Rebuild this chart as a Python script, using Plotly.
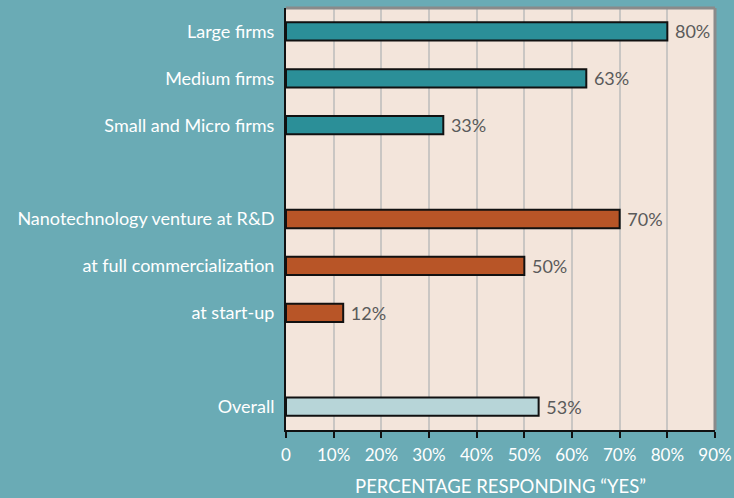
import plotly.graph_objects as go

categories = ["Large firms", "Medium firms", "Small and Micro firms",
              "Nanotechnology venture at R&D", "at full commercialization", "at start-up",
              "Overall"]
values = [80, 63, 33, 70, 50, 12, 53]
groups = ["size", "size", "size", "stage", "stage", "stage", "overall"]
tick_values = [0, 10, 20, 30, 40, 50, 60, 70, 80, 90]
tick_labels = ["0", "10%", "20%", "30%", "40%", "50%", "60%", "70%", "80%", "90%"]

colors = {"size": "#2b8f98", "stage": "#b85527", "overall": "#b7d5d8"}

# slot positions: blank slot between groups
pos = []
slot = 0
prev = None
for g in groups:
    if prev is not None and g != prev:
        slot += 1
    pos.append(slot)
    slot += 1
    prev = g

fig = go.Figure()
fig.add_trace(go.Bar(
    x=values, y=pos, orientation="h",
    marker=dict(color=[colors[g] for g in groups], line=dict(color="#111111", width=2)),
    width=0.39,
    text=[f" {v}%" for v in values], textposition="outside", constraintext="none",
    textfont=dict(color="#5a5a5a", size=18, family="Lato"),
    cliponaxis=False, hoverinfo="skip",
))

fig.update_layout(
    width=734, height=498,
    margin=dict(l=286, r=19, t=8, b=68, autoexpand=False),
    paper_bgcolor="#6aabb5", plot_bgcolor="#f3e5db",
    font=dict(family="Lato", color="white", size=16),
    showlegend=False,
    xaxis=dict(range=[0, 90], tickvals=tick_values, ticktext=tick_labels,
               showgrid=True, gridcolor="#c9c6c3", gridwidth=2,
               showline=True, linecolor="#111111", linewidth=2,
               ticks="outside", ticklen=6, tickwidth=2, tickcolor="#111111",
               ticklabelstandoff=3,
               tickfont=dict(color="white", size=17, family="Lato"),
               zeroline=False, automargin=False,
               title=dict(text="PERCENTAGE RESPONDING “YES”", font=dict(color="white", size=18.5, family="Lato"),
                          standoff=16)),
    yaxis=dict(range=[slot - 0.5, -0.5], tickvals=pos, ticktext=categories,
               showgrid=False, showline=True, linecolor="#111111", linewidth=2,
               ticks="", ticklabelstandoff=6, automargin=False,
               tickfont=dict(color="white", size=18, family="Lato"), zeroline=False),
)
fig.add_shape(type="line", xref="paper", yref="paper", x0=0, x1=1, y0=1, y1=1,
              line=dict(color="#8a8a8a", width=3))
fig.add_shape(type="line", xref="paper", yref="paper", x0=1, x1=1, y0=0, y1=1,
              line=dict(color="#8a8a8a", width=3))

fig.write_html("out.html", config={"displayModeBar": False},
               post_script="document.body.style.margin='0';document.body.style.overflow='hidden';")
